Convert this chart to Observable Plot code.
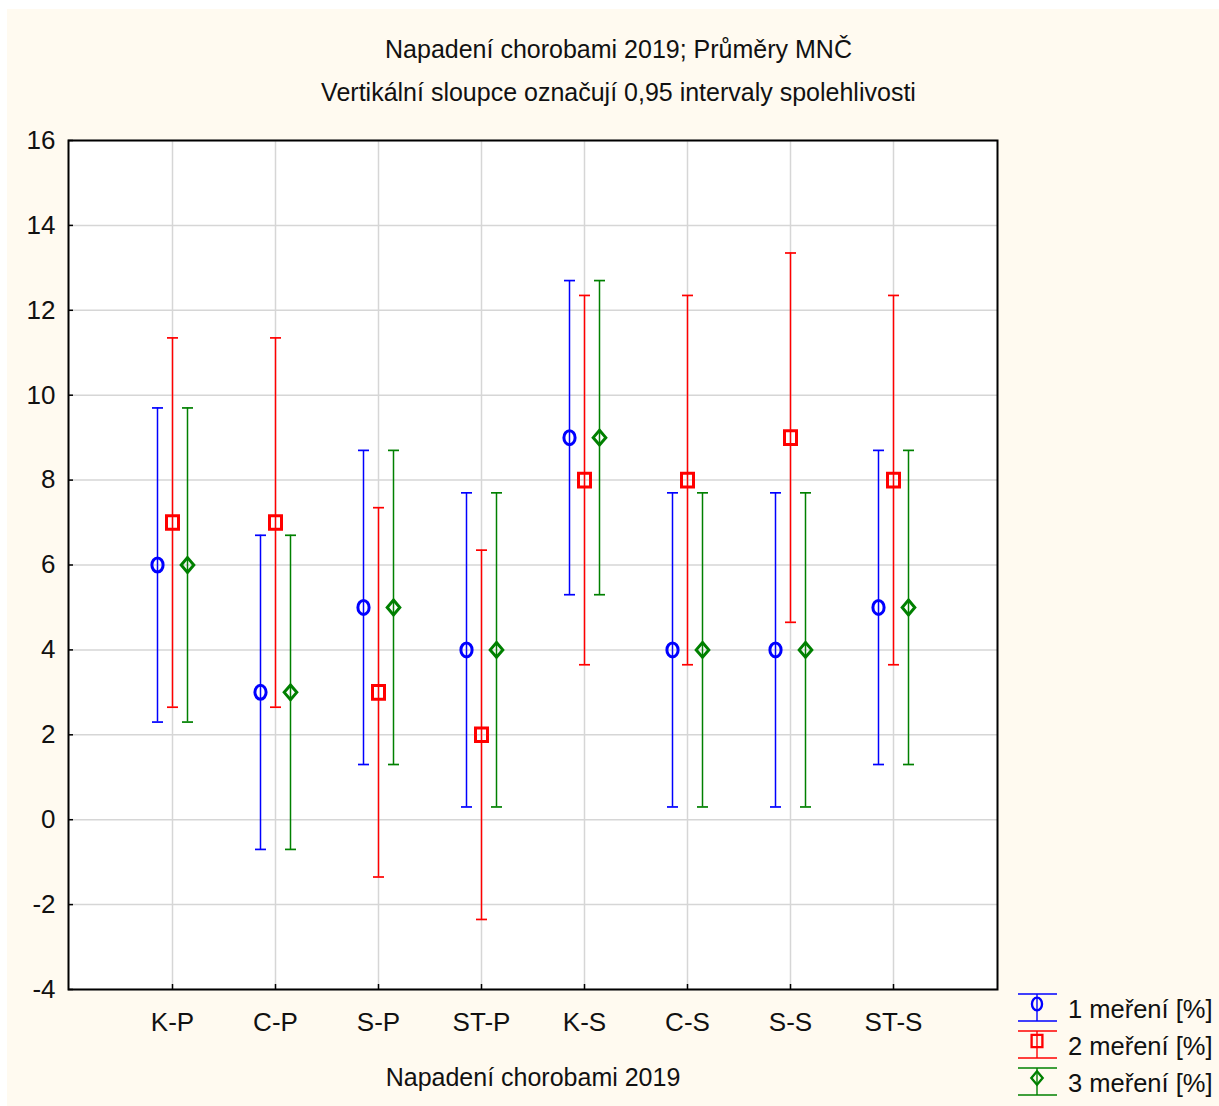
<!DOCTYPE html>
<html>
<head>
<meta charset="utf-8">
<script src="https://cdn.jsdelivr.net/npm/d3@7"></script>
<script src="https://cdn.jsdelivr.net/npm/@observablehq/plot@0.6"></script>
<style>
  body { margin: 0; background: white; width: 1219px; height: 1106px; position: relative; overflow: hidden; font-family: "Liberation Sans", Arial, sans-serif; }
  #cream { position: absolute; left: 7px; top: 9px; width: 1212px; height: 1097px; background: #fffaf0; }
  .title { position: absolute; left: 0; width: 1237px; text-align: center; color: #111; font-size: 25px; }
  #chart { position: absolute; left: 0; top: 0; }
  #legend { position: absolute; left: 0; top: 0; }
</style>
</head>
<body>
<div id="cream"></div>
<div class="title" style="top:35px">Napadení chorobami 2019; Průměry MNČ</div>
<div class="title" style="top:78px">Vertikální sloupce označují 0,95 intervaly spolehlivosti</div>
<div id="chart"></div>
<svg id="legend" width="1219" height="1106"></svg>
<script>
const categories = ["K-P", "C-P", "S-P", "ST-P", "K-S", "C-S", "S-S", "ST-S"];
const seriesNames = ["1 meření [%]", "2 meření [%]", "3 meření [%]"];
const colors = ["#0000ff", "#ff0000", "#008000"];
const yTicks = [-4, -2, 0, 2, 4, 6, 8, 10, 12, 14, 16];

const mean1 = [6, 3, 5, 4, 9, 4, 4, 5];
const low1  = [2.3, -0.7, 1.3, 0.3, 5.3, 0.3, 0.3, 1.3];
const high1 = [9.7, 6.7, 8.7, 7.7, 12.7, 7.7, 7.7, 8.7];

const mean2 = [7, 7, 3, 2, 8, 8, 9, 8];
const low2  = [2.65, 2.65, -1.35, -2.35, 3.65, 3.65, 4.65, 3.65];
const high2 = [11.35, 11.35, 7.35, 6.35, 12.35, 12.35, 13.35, 12.35];

const mean3 = [6, 3, 5, 4, 9, 4, 4, 5];
const low3  = [2.3, -0.7, 1.3, 0.3, 5.3, 0.3, 0.3, 1.3];
const high3 = [9.7, 6.7, 8.7, 7.7, 12.7, 7.7, 7.7, 8.7];

const seriesData = [[mean1, low1, high1], [mean2, low2, high2], [mean3, low3, high3]];

// custom symbols
const k = 0.5523;
const ellipseSym = { draw(c) { const rx = 5.6, ry = 7;
  c.moveTo(0, -ry);
  c.bezierCurveTo(k*rx, -ry, rx, -k*ry, rx, 0);
  c.bezierCurveTo(rx, k*ry, k*rx, ry, 0, ry);
  c.bezierCurveTo(-k*rx, ry, -rx, k*ry, -rx, 0);
  c.bezierCurveTo(-rx, -k*ry, -k*rx, -ry, 0, -ry);
  c.closePath(); } };
const squareSym = { draw(c) { c.rect(-6, -6.8, 12, 13.6); } };
const diamondSym = { draw(c) { c.moveTo(0, -7.4); c.lineTo(6.3, 0); c.lineTo(0, 7.4); c.lineTo(-6.3, 0); c.closePath(); } };
const dashSym = { draw(c) { c.moveTo(-5.5, 0); c.lineTo(5.5, 0); } };
const symbols = [ellipseSym, squareSym, diamondSym];
const offsets = [-15, 0, 15];

const rows = seriesData.map(([m, lo, hi], s) =>
  categories.map((cat, i) => ({cat, series: seriesNames[s], mean: m[i], lo: lo[i], hi: hi[i]})));

const marks = [
  Plot.frame({fill: "white"}),
  Plot.gridX({stroke: "#d6d6d6", strokeOpacity: 1, strokeWidth: 1.5}),
  Plot.gridY(yTicks, {stroke: "#d6d6d6", strokeOpacity: 1, strokeWidth: 1.5})
];
rows.forEach((d, s) => {
  marks.push(
    Plot.ruleX(d, {x: "cat", y1: "lo", y2: "hi", stroke: colors[s], strokeWidth: 1.5, dx: offsets[s]}),
    Plot.dot(d, {x: "cat", y: "lo", symbol: dashSym, r: 5, stroke: colors[s], strokeWidth: 1.7, dx: offsets[s]}),
    Plot.dot(d, {x: "cat", y: "hi", symbol: dashSym, r: 5, stroke: colors[s], strokeWidth: 1.7, dx: offsets[s]}),
    Plot.dot(d, {x: "cat", y: "mean", symbol: symbols[s], r: 5, stroke: colors[s], fill: "none", strokeWidth: 3, dx: offsets[s]})
  );
});
marks.push(
  Plot.axisY({ticks: yTicks, tickSize: -5, tickPadding: 18, fontSize: 26, stroke: "black", strokeWidth: 1.5, color: "#111", label: null,
              tickFormat: d => d < 0 ? "-" + Math.abs(d) : String(d)}),
  Plot.axisX({tickSize: -5, tickPadding: 28, fontSize: 26, stroke: "black", strokeWidth: 1.5, color: "#111", label: null}),
  Plot.axisX({tickSize: 0, ticks: [], fontSize: 25, color: "#111",
              label: "Napadení chorobami 2019", labelAnchor: "center", labelArrow: "none", labelOffset: 96}),
  Plot.frame({stroke: "black", strokeWidth: 2})
);

const chart = Plot.plot({
  width: 1219,
  height: 1106,
  marginLeft: 68,
  marginRight: 222,
  marginTop: 140,
  marginBottom: 117,
  style: {background: "transparent", fontFamily: '"Liberation Sans", Arial, sans-serif', overflow: "visible"},
  x: {domain: categories, type: "point", padding: 1},
  y: {domain: [-4, 16]},
  marks
});
document.getElementById("chart").appendChild(chart);

// legend
const lg = d3.select("#legend");
const legendRows = [1004, 1041, 1078];
seriesNames.forEach((name, s) => {
  const cy = legendRows[s];
  const g = lg.append("g").attr("stroke", colors[s]).attr("fill", "none");
  g.append("line").attr("x1", 1018).attr("x2", 1057).attr("y1", cy - 10).attr("y2", cy - 10).attr("stroke-width", 1.6);
  g.append("line").attr("x1", 1018).attr("x2", 1057).attr("y1", cy + 17).attr("y2", cy + 17).attr("stroke-width", 1.6);
  g.append("line").attr("x1", 1037).attr("x2", 1037).attr("y1", cy - 10).attr("y2", cy + 17).attr("stroke-width", 1.4);
  const p = d3.path();
  symbols[s].draw(p);
  g.append("path").attr("d", p.toString()).attr("transform", `translate(1037,${cy}) scale(0.9)`).attr("stroke-width", 2.6).attr("fill", "none");
  lg.append("text").attr("x", 1068).attr("y", cy + 14).attr("font-size", 25.5).attr("fill", "#111").text(name);
});
</script>
</body>
</html>
